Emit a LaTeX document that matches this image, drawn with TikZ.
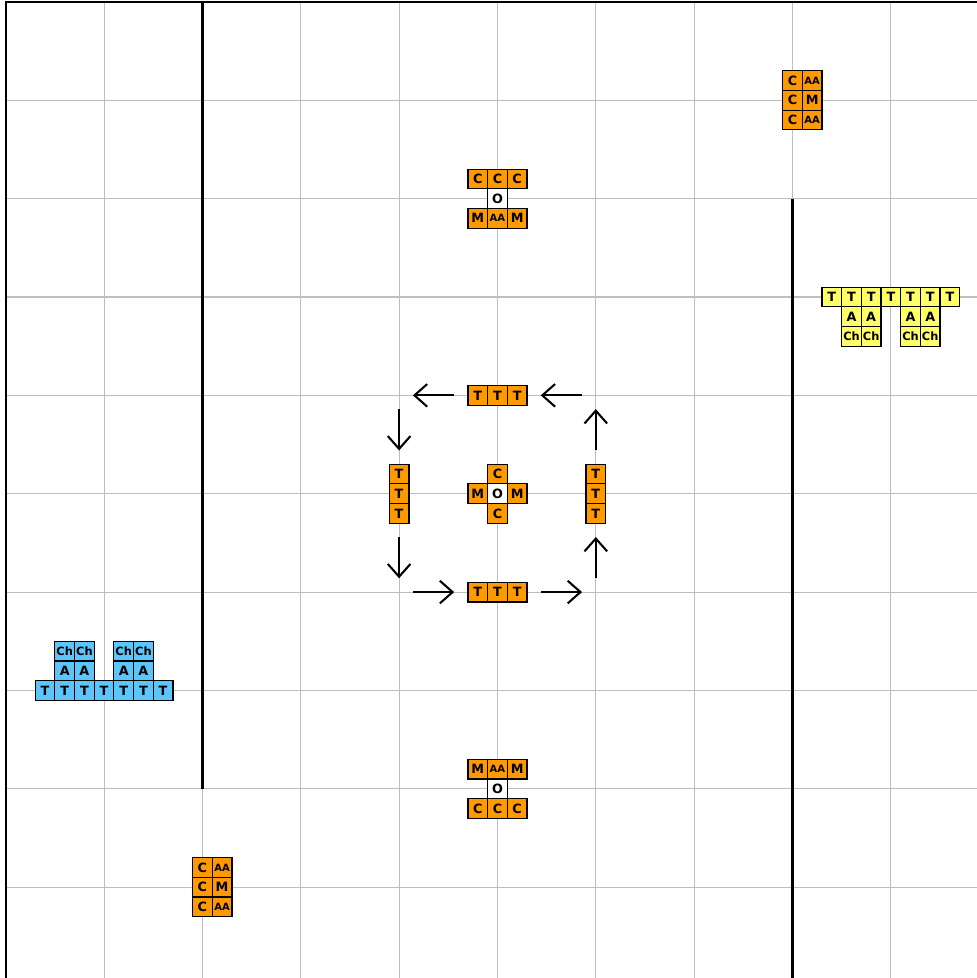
\documentclass[tikz,border=0pt]{standalone}
\usepackage{fontspec}
\setmainfont{DejaVu Sans}
\usetikzlibrary{positioning, arrows.meta}

\definecolor{tileorange}{RGB}{255,153,0}
\definecolor{tileblue}{RGB}{92,197,250}
\definecolor{tileyellow}{RGB}{255,255,102}
\definecolor{gridgray}{RGB}{190,190,190}

\begin{document}
\begin{tikzpicture}[
    tile/.style={rectangle, draw, line width=0.35pt, minimum size=2mm, inner sep=0pt, outer sep=0pt, font=\fontsize{3.7}{3.9}\selectfont\bfseries},
    org/.style={tile, fill=tileorange},
    blu/.style={tile, fill=tileblue},
    yel/.style={tile, fill=tileyellow},
    hole/.style={tile, fill=white},
    small/.style={font=\fontsize{2.9}{3.1}\selectfont\bfseries},
    narrow/.style={font=\fontsize{3.3}{3.5}\selectfont\bfseries},
    frame/.style={line width=0.6pt},
    wall/.style={line width=0.9pt},
    flow/.style={-{Straight Barb[length=1.3mm, width=2.3mm]}, line width=0.6pt, shorten <=1.4mm, shorten >=1.4mm},
]
\useasboundingbox (-0.058,0.076) rectangle (9.876,10.02);

% Grid, frame and walls
\draw[gridgray, line width=0.3pt] (0,0) grid (10,10);
\draw[frame] (0,0) rectangle (10,10);
\draw[wall] (2,10) -- (2,2);
\draw[wall] (8,8) -- (8,0);

% Top right block
\node[org] (ne1) at (8,9.2) {C};
\node[org, small, right=0pt of ne1] (ne2) {AA};
\node[org, below=0pt of ne1] (ne3) {C};
\node[org, right=0pt of ne3] (ne4) {M};
\node[org, below=0pt of ne3] (ne5) {C};
\node[org, small, right=0pt of ne5] (ne6) {AA};

% Top block
\node[hole] (topO) at (5,8) {O};
\node[org, above=0pt of topO] (topC2) {C};
\node[org, left=0pt of topC2] (topC1) {C};
\node[org, right=0pt of topC2] (topC3) {C};
\node[org, small, below=0pt of topO] (topAA) {AA};
\node[org, left=0pt of topAA] (topM1) {M};
\node[org, right=0pt of topAA] (topM2) {M};

% Yellow block
\node[yel] (yT1) at (8.4,7) {T};
\node[yel, right=0pt of yT1] (yT2) {T};
\node[yel, right=0pt of yT2] (yT3) {T};
\node[yel, right=0pt of yT3] (yT4) {T};
\node[yel, right=0pt of yT4] (yT5) {T};
\node[yel, right=0pt of yT5] (yT6) {T};
\node[yel, right=0pt of yT6] (yT7) {T};
\node[yel, below=0pt of yT2] (yA1) {A};
\node[yel, below=0pt of yT3] (yA2) {A};
\node[yel, below=0pt of yT5] (yA3) {A};
\node[yel, below=0pt of yT6] (yA4) {A};
\node[yel, narrow, below=0pt of yA1] (yCh1) {Ch};
\node[yel, narrow, below=0pt of yA2] (yCh2) {Ch};
\node[yel, narrow, below=0pt of yA3] (yCh3) {Ch};
\node[yel, narrow, below=0pt of yA4] (yCh4) {Ch};

% Centre cross
\node[hole] (midO) at (5,5) {O};
\node[org, above=0pt of midO] (midC1) {C};
\node[org, below=0pt of midO] (midC2) {C};
\node[org, left=0pt of midO] (midM1) {M};
\node[org, right=0pt of midO] (midM2) {M};

% T ring
\node[org] (tN2) at (5,6) {T};
\node[org, left=0pt of tN2] (tN1) {T};
\node[org, right=0pt of tN2] (tN3) {T};
\node[org] (tS2) at (5,4) {T};
\node[org, left=0pt of tS2] (tS1) {T};
\node[org, right=0pt of tS2] (tS3) {T};
\node[org] (tW2) at (4,5) {T};
\node[org, above=0pt of tW2] (tW1) {T};
\node[org, below=0pt of tW2] (tW3) {T};
\node[org] (tE2) at (6,5) {T};
\node[org, above=0pt of tE2] (tE1) {T};
\node[org, below=0pt of tE2] (tE3) {T};

\coordinate (cNE) at (tE2 |- tN2);
\coordinate (cNW) at (tW2 |- tN2);
\coordinate (cSW) at (tW2 |- tS2);
\coordinate (cSE) at (tE2 |- tS2);

% Arrows round the ring
\draw[flow] (tE1) -- (cNE);
\draw[flow] (cNE) -- (tN3);
\draw[flow] (tN1) -- (cNW);
\draw[flow] (cNW) -- (tW1);
\draw[flow] (tW3) -- (cSW);
\draw[flow] (cSW) -- (tS1);
\draw[flow] (tS3) -- (cSE);
\draw[flow] (cSE) -- (tE3);

% Blue block
\node[blu] (bT1) at (0.4,3) {T};
\node[blu, right=0pt of bT1] (bT2) {T};
\node[blu, right=0pt of bT2] (bT3) {T};
\node[blu, right=0pt of bT3] (bT4) {T};
\node[blu, right=0pt of bT4] (bT5) {T};
\node[blu, right=0pt of bT5] (bT6) {T};
\node[blu, right=0pt of bT6] (bT7) {T};
\node[blu, above=0pt of bT2] (bA1) {A};
\node[blu, above=0pt of bT3] (bA2) {A};
\node[blu, above=0pt of bT5] (bA3) {A};
\node[blu, above=0pt of bT6] (bA4) {A};
\node[blu, narrow, above=0pt of bA1] (bCh1) {Ch};
\node[blu, narrow, above=0pt of bA2] (bCh2) {Ch};
\node[blu, narrow, above=0pt of bA3] (bCh3) {Ch};
\node[blu, narrow, above=0pt of bA4] (bCh4) {Ch};

% Bottom block
\node[hole] (botO) at (5,2) {O};
\node[org, small, above=0pt of botO] (botAA) {AA};
\node[org, left=0pt of botAA] (botM1) {M};
\node[org, right=0pt of botAA] (botM2) {M};
\node[org, below=0pt of botO] (botC2) {C};
\node[org, left=0pt of botC2] (botC1) {C};
\node[org, right=0pt of botC2] (botC3) {C};

% Bottom left block
\node[org] (sw1) at (2,1.2) {C};
\node[org, small, right=0pt of sw1] (sw2) {AA};
\node[org, below=0pt of sw1] (sw3) {C};
\node[org, right=0pt of sw3] (sw4) {M};
\node[org, below=0pt of sw3] (sw5) {C};
\node[org, small, right=0pt of sw5] (sw6) {AA};

\end{tikzpicture}
\end{document}
